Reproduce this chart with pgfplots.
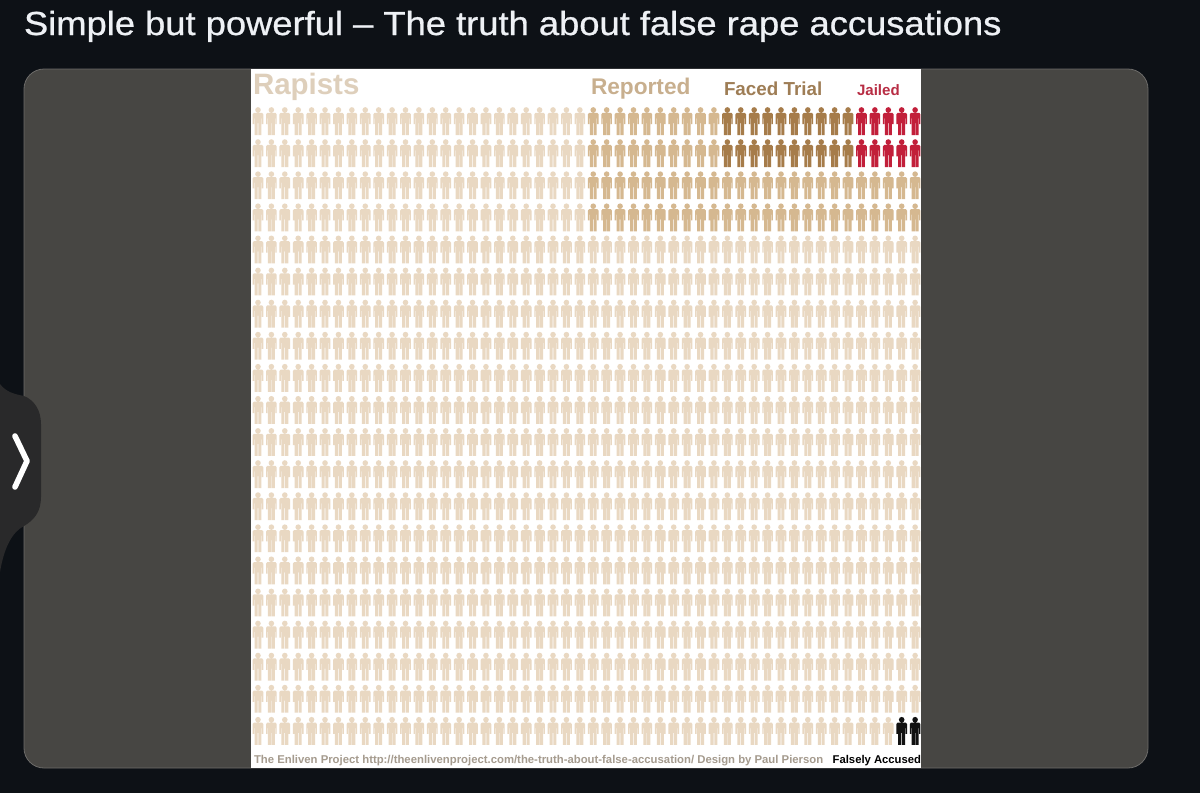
\documentclass[border=0pt]{standalone}
\usepackage{pgfplots}
\pgfplotsset{compat=1.18}
\usepackage{fontspec}
\setmainfont{Liberation Sans}
\newfontfamily\titlefont[FakeStretch=1.09,FakeBold=0.8]{Liberation Sans}
\definecolor{bg}{HTML}{0D1116}
\definecolor{panel}{HTML}{474643}
\definecolor{handle}{HTML}{29292A}
\definecolor{titlec}{HTML}{EEF1F5}
\definecolor{cA}{HTML}{E9D8C2}
\definecolor{cB}{HTML}{D5B890}
\definecolor{cC}{HTML}{A67C4A}
\definecolor{cD}{HTML}{C21F3A}
\definecolor{cE}{HTML}{111111}
\pgfdeclareplotmark{person}{%
  \pgfpathcircle{\pgfpoint{0pt}{8.3pt}}{2.1pt}%
  \pgfpathmoveto{\pgfpoint{-3.1pt}{6.1pt}}%
  \pgfpathlineto{\pgfpoint{-4pt}{5pt}}%
  \pgfpathlineto{\pgfpoint{-4pt}{-2.4pt}}%
  \pgfpathlineto{\pgfpoint{-2.95pt}{-2.4pt}}%
  \pgfpathlineto{\pgfpoint{-2.95pt}{2pt}}%
  \pgfpathlineto{\pgfpoint{-2.6pt}{2pt}}%
  \pgfpathlineto{\pgfpoint{-2.6pt}{-10.5pt}}%
  \pgfpathlineto{\pgfpoint{-0.25pt}{-10.5pt}}%
  \pgfpathlineto{\pgfpoint{-0.25pt}{-1.5pt}}%
  \pgfpathlineto{\pgfpoint{0.25pt}{-1.5pt}}%
  \pgfpathlineto{\pgfpoint{0.25pt}{-10.5pt}}%
  \pgfpathlineto{\pgfpoint{2.6pt}{-10.5pt}}%
  \pgfpathlineto{\pgfpoint{2.6pt}{2pt}}%
  \pgfpathlineto{\pgfpoint{2.95pt}{2pt}}%
  \pgfpathlineto{\pgfpoint{2.95pt}{-2.4pt}}%
  \pgfpathlineto{\pgfpoint{4pt}{-2.4pt}}%
  \pgfpathlineto{\pgfpoint{4pt}{5pt}}%
  \pgfpathlineto{\pgfpoint{3.1pt}{6.1pt}}%
  \pgfpathclose
  \pgfusepathqfill
}
\begin{document}
\begin{tikzpicture}[x=0.75pt,y=-0.75pt,every node/.style={inner sep=0pt,outer sep=0pt}]
\fill[bg] (0,0) rectangle (1200,793);
\path[use as bounding box] (0,0) rectangle (1200,793);
\fill[panel,draw=panel!80!white,line width=0.6pt,rounded corners=15pt] (24,69) rectangle (1148,768);
\fill[handle] (0,384) .. controls (6,392) and (14,394) .. (24,396) .. controls (34,400) and (41,410) .. (41,424) -- (41,497) .. controls (41,512) and (34,520) .. (24,526) .. controls (12,532) and (4,548) .. (0,572) -- cycle;
\draw[white,line width=4.2pt,line cap=round,line join=round] (15,436) -- (27,461) -- (15,487);
\node[anchor=base west,text=titlec,font=\titlefont\fontsize{25pt}{28pt}\selectfont] at (24,35) {Simple but powerful – The truth about false rape accusations};
\fill[white] (251,69) rectangle (921,768);
\coordinate (A) at (251,768);
\begin{axis}[
  at={(A)},anchor=south west,
  scale only axis,width=502.5pt,height=524.25pt,
  xmin=-0.52,xmax=49.44,ymin=-0.62,ymax=21.16,y dir=reverse,
  hide axis,clip=false,
  every axis plot/.append style={only marks,mark=person}]
\addplot[mark options={fill=cA,draw=none}] coordinates {
(0,1)(1,1)(2,1)(3,1)(4,1)(5,1)(6,1)(7,1)(8,1)(9,1)(10,1)(11,1)(12,1)(13,1)(14,1)(15,1)(16,1)(17,1)(18,1)(19,1)(20,1)(21,1)(22,1)(23,1)(24,1)
(0,2)(1,2)(2,2)(3,2)(4,2)(5,2)(6,2)(7,2)(8,2)(9,2)(10,2)(11,2)(12,2)(13,2)(14,2)(15,2)(16,2)(17,2)(18,2)(19,2)(20,2)(21,2)(22,2)(23,2)(24,2)
(0,3)(1,3)(2,3)(3,3)(4,3)(5,3)(6,3)(7,3)(8,3)(9,3)(10,3)(11,3)(12,3)(13,3)(14,3)(15,3)(16,3)(17,3)(18,3)(19,3)(20,3)(21,3)(22,3)(23,3)(24,3)
(0,4)(1,4)(2,4)(3,4)(4,4)(5,4)(6,4)(7,4)(8,4)(9,4)(10,4)(11,4)(12,4)(13,4)(14,4)(15,4)(16,4)(17,4)(18,4)(19,4)(20,4)(21,4)(22,4)(23,4)(24,4)
(0,5)(1,5)(2,5)(3,5)(4,5)(5,5)(6,5)(7,5)(8,5)(9,5)(10,5)(11,5)(12,5)(13,5)(14,5)(15,5)(16,5)(17,5)(18,5)(19,5)(20,5)(21,5)(22,5)(23,5)(24,5)(25,5)(26,5)(27,5)(28,5)(29,5)(30,5)(31,5)(32,5)(33,5)(34,5)(35,5)(36,5)(37,5)(38,5)(39,5)(40,5)(41,5)(42,5)(43,5)(44,5)(45,5)(46,5)(47,5)(48,5)(49,5)
(0,6)(1,6)(2,6)(3,6)(4,6)(5,6)(6,6)(7,6)(8,6)(9,6)(10,6)(11,6)(12,6)(13,6)(14,6)(15,6)(16,6)(17,6)(18,6)(19,6)(20,6)(21,6)(22,6)(23,6)(24,6)(25,6)(26,6)(27,6)(28,6)(29,6)(30,6)(31,6)(32,6)(33,6)(34,6)(35,6)(36,6)(37,6)(38,6)(39,6)(40,6)(41,6)(42,6)(43,6)(44,6)(45,6)(46,6)(47,6)(48,6)(49,6)
(0,7)(1,7)(2,7)(3,7)(4,7)(5,7)(6,7)(7,7)(8,7)(9,7)(10,7)(11,7)(12,7)(13,7)(14,7)(15,7)(16,7)(17,7)(18,7)(19,7)(20,7)(21,7)(22,7)(23,7)(24,7)(25,7)(26,7)(27,7)(28,7)(29,7)(30,7)(31,7)(32,7)(33,7)(34,7)(35,7)(36,7)(37,7)(38,7)(39,7)(40,7)(41,7)(42,7)(43,7)(44,7)(45,7)(46,7)(47,7)(48,7)(49,7)
(0,8)(1,8)(2,8)(3,8)(4,8)(5,8)(6,8)(7,8)(8,8)(9,8)(10,8)(11,8)(12,8)(13,8)(14,8)(15,8)(16,8)(17,8)(18,8)(19,8)(20,8)(21,8)(22,8)(23,8)(24,8)(25,8)(26,8)(27,8)(28,8)(29,8)(30,8)(31,8)(32,8)(33,8)(34,8)(35,8)(36,8)(37,8)(38,8)(39,8)(40,8)(41,8)(42,8)(43,8)(44,8)(45,8)(46,8)(47,8)(48,8)(49,8)
(0,9)(1,9)(2,9)(3,9)(4,9)(5,9)(6,9)(7,9)(8,9)(9,9)(10,9)(11,9)(12,9)(13,9)(14,9)(15,9)(16,9)(17,9)(18,9)(19,9)(20,9)(21,9)(22,9)(23,9)(24,9)(25,9)(26,9)(27,9)(28,9)(29,9)(30,9)(31,9)(32,9)(33,9)(34,9)(35,9)(36,9)(37,9)(38,9)(39,9)(40,9)(41,9)(42,9)(43,9)(44,9)(45,9)(46,9)(47,9)(48,9)(49,9)
(0,10)(1,10)(2,10)(3,10)(4,10)(5,10)(6,10)(7,10)(8,10)(9,10)(10,10)(11,10)(12,10)(13,10)(14,10)(15,10)(16,10)(17,10)(18,10)(19,10)(20,10)(21,10)(22,10)(23,10)(24,10)(25,10)(26,10)(27,10)(28,10)(29,10)(30,10)(31,10)(32,10)(33,10)(34,10)(35,10)(36,10)(37,10)(38,10)(39,10)(40,10)(41,10)(42,10)(43,10)(44,10)(45,10)(46,10)(47,10)(48,10)(49,10)
(0,11)(1,11)(2,11)(3,11)(4,11)(5,11)(6,11)(7,11)(8,11)(9,11)(10,11)(11,11)(12,11)(13,11)(14,11)(15,11)(16,11)(17,11)(18,11)(19,11)(20,11)(21,11)(22,11)(23,11)(24,11)(25,11)(26,11)(27,11)(28,11)(29,11)(30,11)(31,11)(32,11)(33,11)(34,11)(35,11)(36,11)(37,11)(38,11)(39,11)(40,11)(41,11)(42,11)(43,11)(44,11)(45,11)(46,11)(47,11)(48,11)(49,11)
(0,12)(1,12)(2,12)(3,12)(4,12)(5,12)(6,12)(7,12)(8,12)(9,12)(10,12)(11,12)(12,12)(13,12)(14,12)(15,12)(16,12)(17,12)(18,12)(19,12)(20,12)(21,12)(22,12)(23,12)(24,12)(25,12)(26,12)(27,12)(28,12)(29,12)(30,12)(31,12)(32,12)(33,12)(34,12)(35,12)(36,12)(37,12)(38,12)(39,12)(40,12)(41,12)(42,12)(43,12)(44,12)(45,12)(46,12)(47,12)(48,12)(49,12)
(0,13)(1,13)(2,13)(3,13)(4,13)(5,13)(6,13)(7,13)(8,13)(9,13)(10,13)(11,13)(12,13)(13,13)(14,13)(15,13)(16,13)(17,13)(18,13)(19,13)(20,13)(21,13)(22,13)(23,13)(24,13)(25,13)(26,13)(27,13)(28,13)(29,13)(30,13)(31,13)(32,13)(33,13)(34,13)(35,13)(36,13)(37,13)(38,13)(39,13)(40,13)(41,13)(42,13)(43,13)(44,13)(45,13)(46,13)(47,13)(48,13)(49,13)
(0,14)(1,14)(2,14)(3,14)(4,14)(5,14)(6,14)(7,14)(8,14)(9,14)(10,14)(11,14)(12,14)(13,14)(14,14)(15,14)(16,14)(17,14)(18,14)(19,14)(20,14)(21,14)(22,14)(23,14)(24,14)(25,14)(26,14)(27,14)(28,14)(29,14)(30,14)(31,14)(32,14)(33,14)(34,14)(35,14)(36,14)(37,14)(38,14)(39,14)(40,14)(41,14)(42,14)(43,14)(44,14)(45,14)(46,14)(47,14)(48,14)(49,14)
(0,15)(1,15)(2,15)(3,15)(4,15)(5,15)(6,15)(7,15)(8,15)(9,15)(10,15)(11,15)(12,15)(13,15)(14,15)(15,15)(16,15)(17,15)(18,15)(19,15)(20,15)(21,15)(22,15)(23,15)(24,15)(25,15)(26,15)(27,15)(28,15)(29,15)(30,15)(31,15)(32,15)(33,15)(34,15)(35,15)(36,15)(37,15)(38,15)(39,15)(40,15)(41,15)(42,15)(43,15)(44,15)(45,15)(46,15)(47,15)(48,15)(49,15)
(0,16)(1,16)(2,16)(3,16)(4,16)(5,16)(6,16)(7,16)(8,16)(9,16)(10,16)(11,16)(12,16)(13,16)(14,16)(15,16)(16,16)(17,16)(18,16)(19,16)(20,16)(21,16)(22,16)(23,16)(24,16)(25,16)(26,16)(27,16)(28,16)(29,16)(30,16)(31,16)(32,16)(33,16)(34,16)(35,16)(36,16)(37,16)(38,16)(39,16)(40,16)(41,16)(42,16)(43,16)(44,16)(45,16)(46,16)(47,16)(48,16)(49,16)
(0,17)(1,17)(2,17)(3,17)(4,17)(5,17)(6,17)(7,17)(8,17)(9,17)(10,17)(11,17)(12,17)(13,17)(14,17)(15,17)(16,17)(17,17)(18,17)(19,17)(20,17)(21,17)(22,17)(23,17)(24,17)(25,17)(26,17)(27,17)(28,17)(29,17)(30,17)(31,17)(32,17)(33,17)(34,17)(35,17)(36,17)(37,17)(38,17)(39,17)(40,17)(41,17)(42,17)(43,17)(44,17)(45,17)(46,17)(47,17)(48,17)(49,17)
(0,18)(1,18)(2,18)(3,18)(4,18)(5,18)(6,18)(7,18)(8,18)(9,18)(10,18)(11,18)(12,18)(13,18)(14,18)(15,18)(16,18)(17,18)(18,18)(19,18)(20,18)(21,18)(22,18)(23,18)(24,18)(25,18)(26,18)(27,18)(28,18)(29,18)(30,18)(31,18)(32,18)(33,18)(34,18)(35,18)(36,18)(37,18)(38,18)(39,18)(40,18)(41,18)(42,18)(43,18)(44,18)(45,18)(46,18)(47,18)(48,18)(49,18)
(0,19)(1,19)(2,19)(3,19)(4,19)(5,19)(6,19)(7,19)(8,19)(9,19)(10,19)(11,19)(12,19)(13,19)(14,19)(15,19)(16,19)(17,19)(18,19)(19,19)(20,19)(21,19)(22,19)(23,19)(24,19)(25,19)(26,19)(27,19)(28,19)(29,19)(30,19)(31,19)(32,19)(33,19)(34,19)(35,19)(36,19)(37,19)(38,19)(39,19)(40,19)(41,19)(42,19)(43,19)(44,19)(45,19)(46,19)(47,19)(48,19)(49,19)
(0,20)(1,20)(2,20)(3,20)(4,20)(5,20)(6,20)(7,20)(8,20)(9,20)(10,20)(11,20)(12,20)(13,20)(14,20)(15,20)(16,20)(17,20)(18,20)(19,20)(20,20)(21,20)(22,20)(23,20)(24,20)(25,20)(26,20)(27,20)(28,20)(29,20)(30,20)(31,20)(32,20)(33,20)(34,20)(35,20)(36,20)(37,20)(38,20)(39,20)(40,20)(41,20)(42,20)(43,20)(44,20)(45,20)(46,20)(47,20)
};
\addplot[mark options={fill=cB,draw=none}] coordinates {
(25,1)(26,1)(27,1)(28,1)(29,1)(30,1)(31,1)(32,1)(33,1)(34,1)
(25,2)(26,2)(27,2)(28,2)(29,2)(30,2)(31,2)(32,2)(33,2)(34,2)
(25,3)(26,3)(27,3)(28,3)(29,3)(30,3)(31,3)(32,3)(33,3)(34,3)(35,3)(36,3)(37,3)(38,3)(39,3)(40,3)(41,3)(42,3)(43,3)(44,3)(45,3)(46,3)(47,3)(48,3)(49,3)
(25,4)(26,4)(27,4)(28,4)(29,4)(30,4)(31,4)(32,4)(33,4)(34,4)(35,4)(36,4)(37,4)(38,4)(39,4)(40,4)(41,4)(42,4)(43,4)(44,4)(45,4)(46,4)(47,4)(48,4)(49,4)
};
\addplot[mark options={fill=cC,draw=none}] coordinates {
(35,1)(36,1)(37,1)(38,1)(39,1)(40,1)(41,1)(42,1)(43,1)(44,1)
(35,2)(36,2)(37,2)(38,2)(39,2)(40,2)(41,2)(42,2)(43,2)(44,2)
};
\addplot[mark options={fill=cD,draw=none}] coordinates {
(45,1)(46,1)(47,1)(48,1)(49,1)
(45,2)(46,2)(47,2)(48,2)(49,2)
};
\addplot[mark options={fill=cE,draw=none}] coordinates {
(48,20)(49,20)
};
\end{axis}
\node[anchor=base west,text=cA!90!gray,font=\bfseries\fontsize{22.1pt}{24pt}\selectfont] at (253,94) {Rapists};
\node[anchor=base west,text=cB!85!gray,font=\bfseries\fontsize{17pt}{20pt}\selectfont] at (591,94.5) {Reported};
\node[anchor=base west,text=cC!80!gray,font=\bfseries\fontsize{14.1pt}{16pt}\selectfont] at (724,95) {Faced Trial};
\node[anchor=base west,text=cD!85!gray,font=\bfseries\fontsize{11.3pt}{13pt}\selectfont] at (857,95) {Jailed};
\node[anchor=base west,text=black!25!cA!80!gray,font=\bfseries\fontsize{8.5pt}{10pt}\selectfont] at (254,763) {The Enliven Project http://theenlivenproject.com/the-truth-about-false-accusation/ Design by Paul Pierson};
\node[anchor=base east,text=black,font=\bfseries\fontsize{8.45pt}{10pt}\selectfont] at (921,763) {Falsely Accused};
\end{tikzpicture}
\end{document}
